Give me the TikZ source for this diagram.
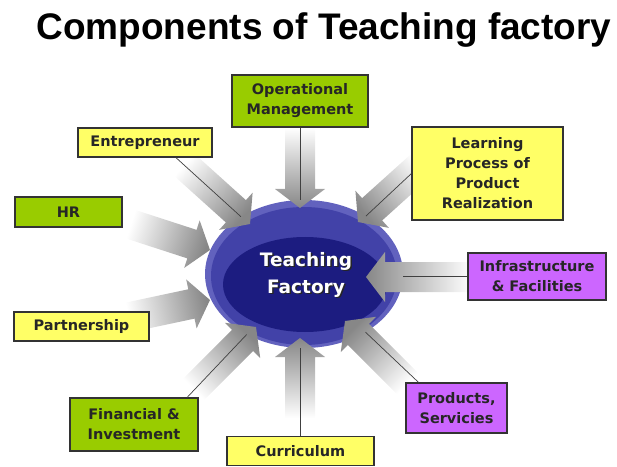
\documentclass[tikz,border=0pt]{standalone}
\usepackage{fontspec}
\setmainfont{DejaVu Sans}
\newfontfamily\titelschrift{Liberation Sans}
\usetikzlibrary{shapes.geometric}

\definecolor{gruen}{RGB}{153,204,0}
\definecolor{gelb}{RGB}{255,255,102}
\definecolor{lila}{RGB}{204,102,255}
\definecolor{randblau}{RGB}{98,98,190}
\definecolor{mittelblau}{RGB}{66,66,168}
\definecolor{kernblau}{RGB}{28,28,128}
\definecolor{pfeilgrau}{RGB}{135,135,135}

\tikzset{
  Kasten/.style={draw=black!80, line width=1.1pt, align=center, inner sep=0pt,
    font={\fontsize{14.5}{20}\selectfont\bfseries}, text=black!85},
  GKasten/.style={Kasten, fill=gruen},   % gruene Kaesten
  YKasten/.style={Kasten, fill=gelb},    % gelbe Kaesten
  LKasten/.style={Kasten, fill=lila},    % lila Kaesten
  Linie/.style={black!75, line width=0.7pt},
  % breiter grauer Pfeil: #1 Laenge, #2 Richtung
  pics/zufluss/.style 2 args={code={
    \begin{scope}[rotate=#2]
    \shade[left color=white, right color=pfeilgrau, shading angle=#2+90, draw=none]
      (-#1,-15) -- (-19,-15) -- (-19,-25) -- (0,0) -- (-19,25) -- (-19,15) -- (-#1,15) -- cycle;
    \end{scope}
  }}
}

\begin{document}
\begin{tikzpicture}[x=1pt, y=1pt]
\useasboundingbox (0,0) rectangle (617,466);

% Ueberschrift
\node[anchor=base, font={\titelschrift\fontsize{37}{40}\selectfont\bfseries}] (titel) at (324,426) {Components of Teaching factory};

% Ellipse in der Mitte
\node[ellipse, fill=randblau, minimum width=198, minimum height=148, inner sep=0pt] (tf) at (304,192) {};
\node[ellipse, fill=mittelblau, minimum width=186, minimum height=138, inner sep=0pt] (tfmitte) at (304,190) {};
\node[ellipse, fill=kernblau, minimum width=164, minimum height=95, inner sep=0pt] (tfkern) at (305,181.5) {};

% graue Pfeile
\pic at (300,258) {zufluss={80}{-90}};
\pic at (250,242) {zufluss={90}{-42}};
\pic at (358,244) {zufluss={85}{-138}};
\pic at (210,216) {zufluss={85}{-18}};
\pic at (210,166) {zufluss={85}{12}};
\pic at (256,139) {zufluss={90}{45}};
\pic at (300,128) {zufluss={80}{90}};
\pic at (345,145) {zufluss={90}{135}};
\pic at (366,189) {zufluss={105}{180}};

% Schrift in der Ellipse
\node[align=center, text=black!85, font={\fontsize{18.5}{27}\selectfont\bfseries}] (tfschatten) at (307.5,190) {Teaching\\Factory};
\node[align=center, text=white, font={\fontsize{18.5}{27}\selectfont\bfseries}] (tftext) at (306,191.5) {Teaching\\Factory};

% Kaesten
\node[GKasten, minimum width=136, minimum height=52] (opm) at (300,365) {Operational\\Management};
\node[YKasten, minimum width=134, minimum height=29] (entre) at (145,323.5) {Entrepreneur};
\node[YKasten, minimum width=151, minimum height=93] (learn) at (487.5,292.5) {Learning\\Process of\\Product\\Realization};
\node[GKasten, minimum width=107, minimum height=30] (hr) at (68.5,254) {HR};
\node[LKasten, minimum width=138, minimum height=47] (infra) at (537,189.5) {Infrastructure\\\& Facilities};
\node[YKasten, minimum width=135, minimum height=29] (partner) at (81.5,139.5) {Partnership};
\node[LKasten, minimum width=101, minimum height=50] (prod) at (456.5,58) {Products,\\Servicies};
\node[GKasten, minimum width=128, minimum height=53] (fin) at (134,41.5) {Financial \&\\Investment};
\node[YKasten, minimum width=147, minimum height=29] (curr) at (300.5,15) {Curriculum};

% Linien zur Ellipse
\draw[Linie] (opm.south) -- (opm.south |- tf.north);
\draw[Linie] (entre.-26) -- (tf);
\draw[Linie] (learn.west) -- (tf);
\draw[Linie] (infra.west) -- (infra.west -| tf.east);
\draw[Linie] (prod.146) -- (tf);
\draw[Linie] (fin.27) -- (tf);
\draw[Linie] (curr.north) -- (curr.north |- tf.south);

\end{tikzpicture}
\end{document}
